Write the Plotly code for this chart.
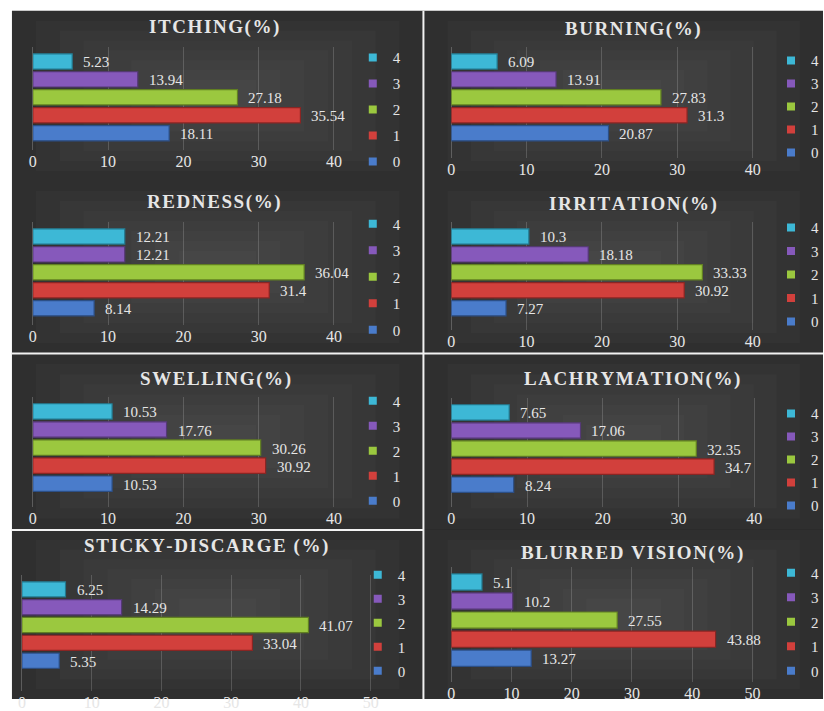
import plotly.graph_objects as go

W, H = 824, 711

# ---------------- data ----------------
categories = ["0", "1", "2", "3", "4"]
titles = ["ITCHING(%)", "BURNING(%)", "REDNESS(%)", "IRRITATION(%)",
          "SWELLING(%)", "LACHRYMATION(%)", "STICKY-DISCARGE (%)", "BLURRED VISION(%)"]
itching = [18.11, 35.54, 27.18, 13.94, 5.23]
burning = [20.87, 31.3, 27.83, 13.91, 6.09]
redness = [8.14, 31.4, 36.04, 12.21, 12.21]
irritation = [7.27, 30.92, 33.33, 18.18, 10.3]
swelling = [10.53, 30.92, 30.26, 17.76, 10.53]
lachrymation = [8.24, 34.7, 32.35, 17.06, 7.65]
sticky_discarge = [5.35, 33.04, 41.07, 14.29, 6.25]
blurred_vision = [13.27, 43.88, 27.55, 10.2, 5.1]
ticks_40 = [0, 10, 20, 30, 40]
ticks_50 = [0, 10, 20, 30, 40, 50]

series = [itching, burning, redness, irritation, swelling, lachrymation,
          sticky_discarge, blurred_vision]
tick_sets = [ticks_40] * 6 + [ticks_50] * 2

# ---------------- style / layout (pixels) ----------------
colors = ["#4a7ccb", "#d2403c", "#9bc83f", "#8659bb", "#3db8d6"]
edge = ["#2c4f86", "#8a2523", "#617f22", "#553877", "#23798f"]
SERIF = "Liberation Serif"
TXT = "#e6e6e6"

geo = [
    dict(x0=29, ppu=7.575, xmax=44, y4=62.5, y0=135.5, tick_y=165, tx=211, ty=27, lx=366, ly=59, lsp=25),
    dict(x0=450, ppu=7.58, xmax=44, y4=62.5, y0=135.5, tick_y=173, tx=633, ty=29, lx=787, ly=62, lsp=22),
    dict(x0=29, ppu=7.575, xmax=44, y4=240.5, y0=313.5, tick_y=343, tx=211, ty=205, lx=366, ly=228, lsp=25.5),
    dict(x0=450, ppu=7.58, xmax=44, y4=240.5, y0=313.5, tick_y=348, tx=633, ty=207, lx=787, ly=232, lsp=22.5),
    dict(x0=29, ppu=7.575, xmax=44, y4=418.5, y0=492, tick_y=528, tx=213, ty=385, lx=366, ly=408, lsp=24),
    dict(x0=450, ppu=7.62, xmax=44, y4=419.5, y0=493, tick_y=528, tx=632, ty=385, lx=787, ly=421, lsp=22),
    dict(x0=18, ppu=7.02, xmax=51, y4=599.5, y0=672, tick_y=715, tx=203, ty=555, lx=371, ly=585, lsp=23),
    dict(x0=450, ppu=6.06, xmax=52, y4=592, y0=669.5, tick_y=706, tx=632, ty=562, lx=787, ly=583, lsp=23.5),
]

fig = go.Figure()
shapes = []
annotations = []
layout = {}

panels = [
    (8, 11, 422, 184), (423, 11, 824, 184),
    (8, 184, 422, 359), (423, 184, 824, 359),
    (8, 360, 422, 538), (423, 360, 824, 538),
    (8, 539, 422, 711), (423, 539, 824, 711),
]
def px_x(p):
    return p / W
def px_y(p):
    return 1 - p / H

HAIR = "\u200a"
def spaced(t):
    return HAIR.join(list(t))

shapes.append(dict(type="rect", xref="paper", yref="paper", x0=px_x(8), x1=1, y0=0, y1=px_y(11),
                   fillcolor="#2b2b2b", line=dict(width=0), layer="below"))
for (a, b, c, d) in panels:
    for k in range(8):
        ix = (c - a) * 0.058 * k
        iy = (d - b) * 0.058 * k
        shapes.append(dict(type="rect", xref="paper", yref="paper",
                           x0=px_x(a + ix), x1=px_x(c - ix), y0=px_y(d - iy), y1=px_y(b + iy),
                           fillcolor="rgba(255,255,255,0.018)", line=dict(width=0), layer="below"))

for i, (vals, g, ttl, tks) in enumerate(zip(series, geo, titles, tick_sets)):
    n = i + 1
    xa = "x" if n == 1 else f"x{n}"
    ya = "y" if n == 1 else f"y{n}"
    leg = "legend" if n == 1 else f"legend{n}"
    s = (g["y0"] - g["y4"]) / 4.0
    pb = g["tick_y"] - 12
    pt = g["y4"] - 0.8 * s
    ybot = -(pb - g["y0"]) / s
    ytop = 4 + (g["y4"] - pt) / s
    xr = g["x0"] + g["xmax"] * g["ppu"]

    layout["xaxis" if n == 1 else f"xaxis{n}"] = dict(
        domain=[g["x0"] / W, xr / W], anchor=ya, range=[0, g["xmax"]],
        tickvals=tks, ticktext=[str(t) for t in tks], showgrid=True,
        gridcolor="rgba(255,255,255,0.17)", gridwidth=1, zeroline=True,
        zerolinecolor="rgba(255,255,255,0.22)", zerolinewidth=1, showline=False,
        tickfont=dict(family=SERIF, size=16, color=TXT), ticks="", fixedrange=True)
    layout["yaxis" if n == 1 else f"yaxis{n}"] = dict(
        domain=[1 - pb / H, 1 - pt / H], anchor=xa, type="category",
        categoryorder="array", categoryarray=categories, range=[ybot, ytop],
        showticklabels=False, showgrid=False, zeroline=False, showline=False,
        fixedrange=True)

    for c, v in enumerate(vals):
        fig.add_trace(go.Bar(
            x=[v], y=[categories[c]], orientation="h", xaxis=xa, yaxis=ya,
            width=0.85, marker=dict(color=colors[c], line=dict(color=edge[c], width=1.2)),
            showlegend=False, hoverinfo="x"))
        fig.add_trace(go.Scatter(
            x=[None], y=[None], mode="markers", xaxis=xa, yaxis=ya, name=categories[c],
            marker=dict(symbol="square", size=8, color=colors[c]),
            legend=leg, legendgroup=f"g{n}_{c}", legendrank=100 - c, showlegend=True))
        annotations.append(dict(
            x=v, y=categories[c], xref=xa, yref=ya, text=f"{v:g}", showarrow=False,
            xanchor="left", yanchor="middle", xshift=9, yshift=-1,
            font=dict(family=SERIF, size=15, color=TXT)))

    annotations.append(dict(
        x=g["tx"] / W, y=1 - g["ty"] / H, xref="paper", yref="paper", text=f"<b>{spaced(ttl)}</b>",
        showarrow=False, xanchor="center", yanchor="middle",
        font=dict(family=SERIF, size=19, color=TXT)))

    layout[leg] = dict(
        x=g["lx"] / W, y=1 - (g["ly"] - 17) / H, xanchor="left", yanchor="top",
        traceorder="grouped", tracegroupgap=max(0, g["lsp"] - 21.5),
        font=dict(family=SERIF, size=15, color=TXT), bgcolor="rgba(0,0,0,0)",
        borderwidth=0, itemwidth=30, indentation=-15)

shapes.append(dict(type="line", xref="paper", yref="paper", x0=px_x(422), x1=px_x(422),
                   y0=0, y1=px_y(11), line=dict(color="#f2f2f2", width=2)))
shapes.append(dict(type="line", xref="paper", yref="paper", x0=px_x(8), x1=1,
                   y0=px_y(359.5), y1=px_y(359.5), line=dict(color="#f2f2f2", width=2)))
shapes.append(dict(type="line", xref="paper", yref="paper", x0=px_x(8), x1=px_x(422),
                   y0=px_y(539), y1=px_y(539), line=dict(color="#f2f2f2", width=2)))

fig.update_layout(
    width=W, height=H, margin=dict(l=0, r=0, t=0, b=0),
    paper_bgcolor="white", plot_bgcolor="rgba(0,0,0,0)",
    barmode="overlay", shapes=shapes, annotations=annotations, **layout)

fig.write_html("out.html")
